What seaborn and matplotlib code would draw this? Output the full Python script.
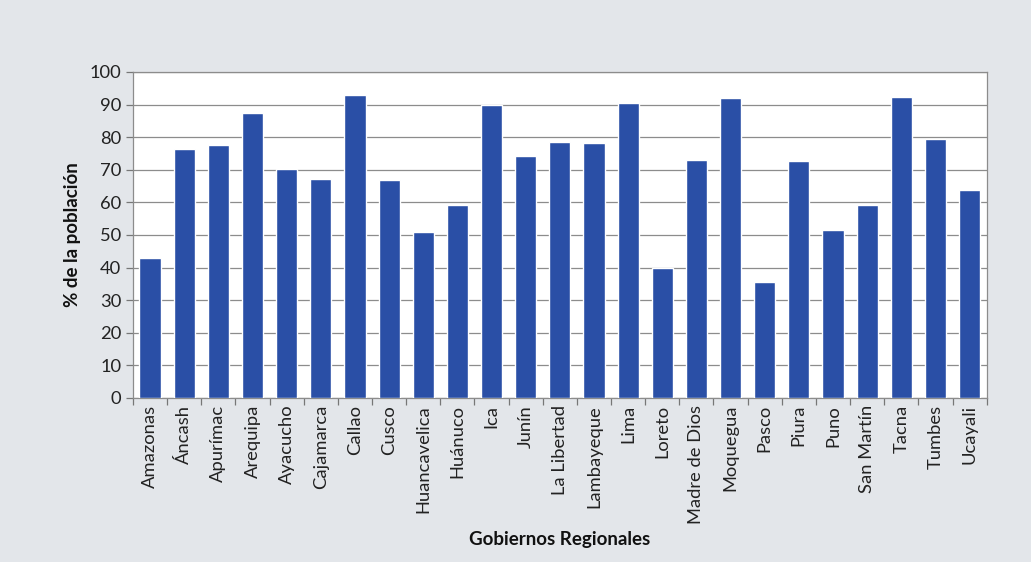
import matplotlib
matplotlib.use("Agg")
import matplotlib.pyplot as plt
import seaborn as sns
import pandas as pd
import numpy as np

regions = ["Amazonas", "Áncash", "Apurímac", "Arequipa", "Ayacucho", "Cajamarca",
           "Callao", "Cusco", "Huancavelica", "Huánuco", "Ica", "Junín",
           "La Libertad", "Lambayeque", "Lima", "Loreto", "Madre de Dios",
           "Moquegua", "Pasco", "Piura", "Puno", "San Martín", "Tacna",
           "Tumbes", "Ucayali"]
values = [43.0, 76.5, 77.6, 87.5, 70.2, 67.2,
          92.8, 66.8, 50.8, 59.3, 89.8, 74.2,
          78.5, 78.2, 90.4, 40.0, 73.1,
          91.9, 35.6, 72.6, 51.4, 59.3, 92.2,
          79.3, 63.7]
y_ticks = [0, 10, 20, 30, 40, 50, 60, 70, 80, 90, 100]

df = pd.DataFrame({"region": regions, "value": values})

sns.set_theme(style="white")
plt.rcParams["font.family"] = ["Lato", "DejaVu Sans"]

fig = plt.figure(figsize=(10.31, 5.62), dpi=100, facecolor="#e3e6ea")
ax = fig.add_axes([0.129, 0.292, 0.828, 0.580])
ax.set_facecolor("white")

sns.barplot(data=df, x="region", y="value", color="#2a4fa6", width=0.62,
            saturation=1, ax=ax, zorder=3)

ax.set_ylim(0, 100)
ax.set_xlim(-0.5, len(regions) - 0.5)
ax.set_yticks(y_ticks)
ax.yaxis.grid(True, color="#8c8c8c", linewidth=0.9, zorder=0)
ax.set_axisbelow(True)

ax.set_xticks(range(len(regions)))
ax.set_xticklabels(regions, rotation=90, fontsize=13.2, color="#222222")
ax.tick_params(axis="x", which="major", length=0, pad=5)
ax.set_xticks(np.arange(-0.5, len(regions), 1.0), minor=True)
ax.tick_params(axis="x", which="minor", length=5, width=0.9, color="#777777", bottom=True)
ax.tick_params(axis="y", labelsize=13.2, length=5, width=0.9, color="#777777", left=True,
               labelcolor="#222222")

for s in ax.spines.values():
    s.set_color("#8c8c8c")
    s.set_linewidth(0.9)

ax.set_ylabel("% de la población", fontsize=13.5, fontweight="bold", color="#111111", labelpad=6)
ax.set_xlabel("Gobiernos Regionales", fontsize=13.5, fontweight="bold", color="#111111", labelpad=5)

fig.savefig("out.png", dpi=100, facecolor=fig.get_facecolor())
